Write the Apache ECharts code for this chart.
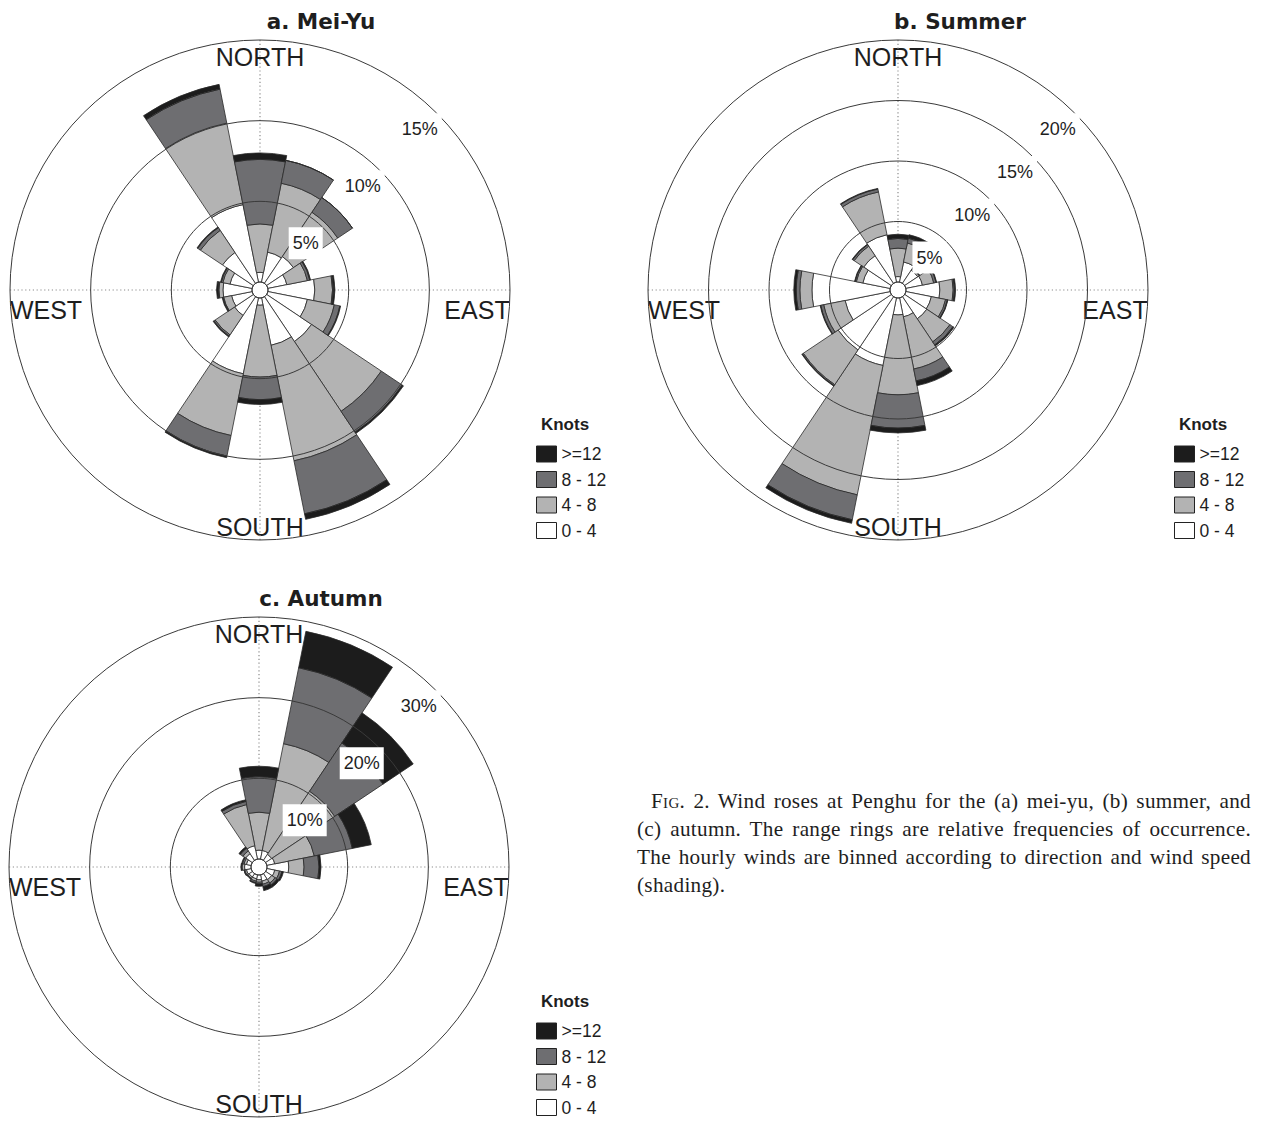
<!DOCTYPE html>
<html>
<head>
<meta charset="utf-8">
<title>Wind roses at Penghu</title>
<script src="https://cdn.jsdelivr.net/npm/echarts@6/dist/echarts.min.js"></script>
<style>
  html, body { margin: 0; padding: 0; background: #fff; }
  #chart { position: absolute; left: 0; top: 0; width: 1263px; height: 1121px; }
  #caption {
    position: absolute; left: 637px; top: 787px; width: 614px;
    font-family: 'Liberation Serif', 'Times New Roman', serif;
    font-size: 21.2px; line-height: 28px; color: #1e1e1e; letter-spacing: 0.3px;
  }
  #caption .ln { text-align: justify; text-align-last: justify; white-space: nowrap; }
  #caption .ln.first { padding-left: 14px; }
  #caption .ln.last { text-align-last: left; }
  .sc { font-variant: small-caps; }
</style>
</head>
<body>
<div id="chart"></div>
<div id="caption">
  <div class="ln first"><span class="sc">Fig</span>. 2. Wind roses at Penghu for the (a) mei-yu, (b) summer, and</div>
  <div class="ln">(c) autumn. The range rings are relative frequencies of occurrence.</div>
  <div class="ln">The hourly winds are binned according to direction and wind speed</div>
  <div class="ln last">(shading).</div>
</div>
<script>
// 16-point compass sectors, clockwise from north
const DIRECTIONS = ['N', 'NNE', 'NE', 'ENE', 'E', 'ESE', 'SE', 'SSE',
                    'S', 'SSW', 'SW', 'WSW', 'W', 'WNW', 'NW', 'NNW'];
// wind speed classes (knots), innermost first
const SPEED_BINS = ['0 - 4', '4 - 8', '8 - 12', '>=12'];
const LEGEND_ORDER = ['>=12', '8 - 12', '4 - 8', '0 - 4'];

// relative frequency of occurrence (%) per direction and speed class
// (a) mei-yu
const meiyu_0_4   = [0.6, 1.9, 2.0, 1.2, 2.9, 2.5, 3.35, 3.0, 0.45, 4.8, 1.4, 1.3, 1.8, 1.4, 2.3, 4.9];
const meiyu_4_8   = [3.0, 4.35, 3.3, 1.3, 1.1, 1.7, 5.2, 7.3, 4.45, 3.9, 1.45, 0.5, 0.25, 0.45, 1.65, 5.15];
const meiyu_8_12  = [4.0, 1.45, 1.1, 0.15, 0.05, 0.35, 1.55, 3.35, 1.4, 1.3, 0.1, 0.05, 0.05, 0.1, 0.2, 2.15];
const meiyu_12up  = [0.4, 0, 0, 0.05, 0.1, 0.05, 0.1, 0.35, 0.3, 0.1, 0.05, 0.05, 0.1, 0.05, 0.05, 0.3];

// (b) summer
const summer_0_4  = [0.45, 1.7, 1.3, 1.4, 2.8, 2.15, 2.2, 1.6, 1.4, 5.7, 5.3, 3.8, 6.45, 2.3, 2.75, 4.0];
const summer_4_8  = [2.35, 1.6, 0.15, 0.95, 1.1, 1.2, 2.3, 4.4, 6.6, 10.9, 3.45, 1.8, 1.0, 0.55, 0.95, 3.6];
const summer_8_12 = [0.8, 0.4, 0.05, 0.2, 0.1, 0.15, 0.3, 1.0, 2.75, 2.1, 0.1, 0.25, 0.3, 0.1, 0.15, 0.25];
const summer_12up = [0.35, 0.3, 0, 0.05, 0.1, 0.05, 0.1, 0.4, 0.4, 0.3, 0.05, 0.05, 0.2, 0.05, 0.05, 0.05];

// (c) autumn
const autumn_0_4  = [1.1, 1.1, 0.9, 1.0, 2.7, 1.0, 0.9, 0.8, 0.6, 0.5, 0.5, 0.6, 0.8, 0.6, 1.0, 1.7];
const autumn_4_8  = [4.7, 13.5, 9.4, 5.0, 1.9, 0.6, 0.5, 0.4, 0.3, 0.3, 0.2, 0.2, 0.3, 0.3, 0.4, 5.2];
const autumn_8_12 = [4.4, 9.6, 7.2, 4.8, 1.85, 0.3, 0.3, 0.3, 0.2, 0.2, 0.1, 0.1, 0.1, 0.2, 0.4, 0.4];
const autumn_12up = [1.3, 4.6, 4.5, 2.4, 0.25, 0.2, 0.3, 0.5, 0.3, 0.1, 0, 0, 0.05, 0.1, 0.2, 0.2];

// range rings (%)
const MEIYU_RINGS  = [5, 10, 15];
const SUMMER_RINGS = [5, 10, 15, 20];
const AUTUMN_RINGS = [10, 20, 30];

const BIN_COLORS = ['#ffffff', '#b3b3b3', '#6e6e71', '#1c1c1c'];
const TEXT_COLOR = '#1e1e1e';
const HOLE = 8, OUTER = 250;

const panels = [
  { title: 'a. Mei-Yu', titlePos: [321, 21], center: [260, 290], rings: MEIYU_RINGS,
    bins: [meiyu_0_4, meiyu_4_8, meiyu_8_12, meiyu_12up], legendPos: [536, 445] },
  { title: 'b. Summer', titlePos: [960, 21], center: [898, 290], rings: SUMMER_RINGS,
    bins: [summer_0_4, summer_4_8, summer_8_12, summer_12up], legendPos: [1174, 445] },
  { title: 'c. Autumn', titlePos: [321, 598], center: [259, 867], rings: AUTUMN_RINGS,
    bins: [autumn_0_4, autumn_4_8, autumn_8_12, autumn_12up], legendPos: [536, 1022] }
];

const polar = [], angleAxis = [], radiusAxis = [], series = [], legend = [], graphic = [];

function label(text, x, y, font) {
  return {
    type: 'text', x: x, y: y, silent: true,
    style: { text: text, font: font, fill: TEXT_COLOR,
             textAlign: 'center', textVerticalAlign: 'middle',
             align: 'center', verticalAlign: 'middle' }
  };
}

panels.forEach(function (p, i) {
  const ringMax = p.rings[p.rings.length - 1];
  const ringStep = p.rings[0];
  const barPolar = 2 * i, gridPolar = 2 * i + 1;

  // polar used by the stacked sectors, and an overlaid one for the compass cross
  polar.push({ center: p.center, radius: [HOLE, OUTER] });
  polar.push({ center: p.center, radius: [HOLE, OUTER] });

  angleAxis.push({
    polarIndex: barPolar, type: 'category', data: DIRECTIONS,
    startAngle: 90 + 360 / DIRECTIONS.length / 2, clockwise: true,
    axisLine: { show: false }, axisTick: { show: false },
    axisLabel: { show: false }, splitLine: { show: false }, z: 1
  });
  angleAxis.push({
    polarIndex: gridPolar, type: 'value', min: 0, max: 360, interval: 90,
    startAngle: 90, clockwise: true,
    axisLine: { show: false }, axisTick: { show: false }, axisLabel: { show: false },
    splitLine: { show: true, lineStyle: { color: '#8c8c8c', width: 1.2, type: [1.2, 2.6] } },
    z: 0
  });

  // range rings, drawn over the sectors
  radiusAxis.push({
    polarIndex: barPolar, type: 'value', min: 0, max: ringMax, interval: ringStep,
    axisLine: { show: false }, axisTick: { show: false }, axisLabel: { show: false },
    splitLine: { show: true, lineStyle: { color: '#3a3a3a', width: 1 } },
    splitArea: { show: false }, z: 5
  });
  radiusAxis.push({
    polarIndex: gridPolar, type: 'value', min: 0, max: ringMax, interval: ringStep,
    axisLine: { show: false }, axisTick: { show: false }, axisLabel: { show: false },
    splitLine: { show: false }, z: 0
  });

  SPEED_BINS.forEach(function (name, b) {
    series.push({
      type: 'bar', coordinateSystem: 'polar', polarIndex: barPolar,
      name: name, stack: 'rose' + i, data: p.bins[b],
      barCategoryGap: '0%',
      itemStyle: { color: BIN_COLORS[b], borderColor: '#2a2a2a', borderWidth: 0.8 },
      emphasis: { disabled: true }, silent: true, z: 2
    });
  });

  // ring percentage labels along the north-east diagonal
  series.push({
    type: 'scatter', coordinateSystem: 'polar', polarIndex: gridPolar,
    symbolSize: 0, silent: true, z: 10,
    itemStyle: { opacity: 1 },
    data: p.rings.map(function (r) { return [r, 45]; }),
    label: {
      show: true, position: 'inside', offset: [-17, 16],
      formatter: function (d) { return d.value[0] + '%'; },
      backgroundColor: '#ffffff', padding: [7, 4], opacity: 1,
      fontSize: 18, fontFamily: 'Liberation Sans', color: TEXT_COLOR
    }
  });

  legend.push({
    left: p.legendPos[0], top: p.legendPos[1], orient: 'vertical',
    height: 140, width: 100,
    data: LEGEND_ORDER, icon: 'rect', itemWidth: 20, itemHeight: 16, itemGap: 7.5,
    padding: 0, selectedMode: false,
    itemStyle: { borderColor: '#222', borderWidth: 1 },
    textStyle: { fontSize: 17.5, fontFamily: 'Liberation Sans', color: TEXT_COLOR }
  });

  const cx = p.center[0], cy = p.center[1];
  graphic.push(label(p.title, p.titlePos[0], p.titlePos[1], 'bold 21.5px "DejaVu Sans"'));
  const compassFont = '25px "Liberation Sans"';
  graphic.push(label('NORTH', cx, cy - 233, compassFont));
  graphic.push(label('SOUTH', cx, cy + 237, compassFont));
  graphic.push(label('WEST', cx - 214, cy + 20, compassFont));
  graphic.push(label('EAST', cx + 217, cy + 20, compassFont));
  graphic.push(label('Knots', p.legendPos[0] + 29, p.legendPos[1] - 21, 'bold 17px "Liberation Sans"'));
});

const chart = echarts.init(document.getElementById('chart'), null, { renderer: 'svg' });
chart.setOption({
  animation: false,
  backgroundColor: '#ffffff',
  polar: polar,
  angleAxis: angleAxis,
  radiusAxis: radiusAxis,
  legend: legend,
  series: series,
  graphic: { elements: graphic }
});
</script>
</body>
</html>
